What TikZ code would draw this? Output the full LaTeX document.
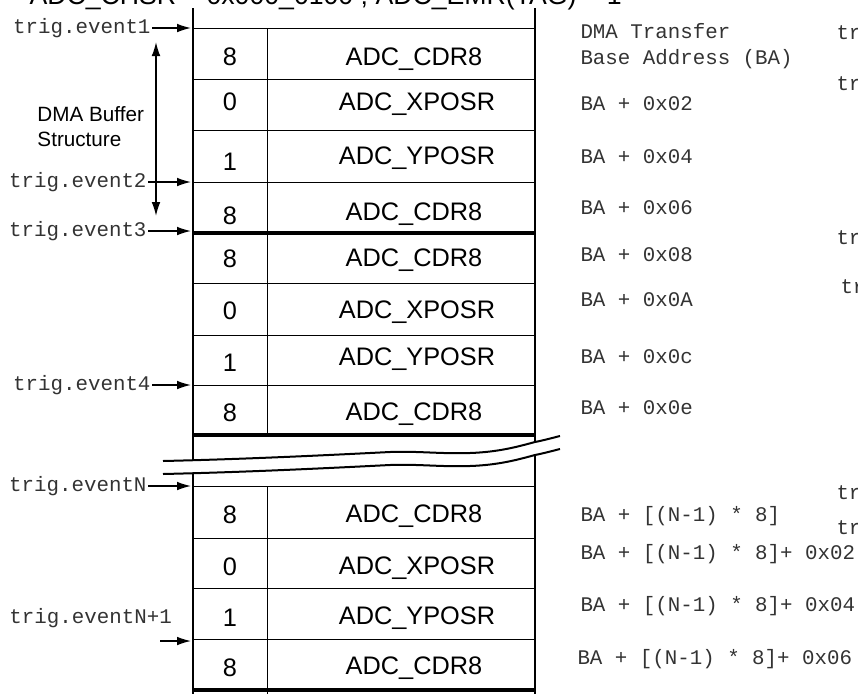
\documentclass[tikz,border=0pt]{standalone}
\usepackage{fontspec}
\setmainfont{Liberation Sans}
\setmonofont{Liberation Mono}
\usetikzlibrary{arrows.meta}

\tikzset{every picture/.style={line width=0.75pt}}
\tikzset{
  cell/.style={inner sep=0.75pt, text depth=0pt, font=\fontsize{19pt}{22pt}\selectfont},
  addr/.style={anchor=west, inner sep=0.75pt, text=black!80, font=\ttfamily\fontsize{15.6pt}{18pt}\selectfont},
  evt/.style={anchor=east, inner sep=0.75pt, text=black!80, font=\ttfamily\fontsize{15.6pt}{18pt}\selectfont},
  evtarrow/.style={line width=1pt, -{Latex[length=10.5pt,width=6.5pt]}},
  tableborder/.style={line width=1.5pt},
  blockline/.style={line width=3pt},
}

\begin{document}
\begin{tikzpicture}[x=0.75pt,y=0.75pt,yscale=-1,xscale=1]
        \useasboundingbox (0,0) rectangle (858,694);

        % title, cut at the top
        \node [anchor=base west, inner sep=0pt, font=\fontsize{20pt}{24pt}\selectfont] (title) at (29,4) {ADC\_CHSR = 0x000\_0100 ; ADC\_EMR(TAG) = 1};

        % table
        \draw [tableborder] (193,8) -- (193,694) ;
        \draw [tableborder] (535,8) -- (535,694) ;
        \draw   (267,28) -- (267,435) ;
        \draw   (267,486) -- (267,694) ;
        \draw   (193,28) -- (535,28) ;
        \draw   (193,79) -- (535,79) ;
        \draw   (193,130) -- (535,130) ;
        \draw   (193,182) -- (535,182) ;
        \draw [blockline] (193,233) -- (535,233) ;
        \draw   (193,283) -- (535,283) ;
        \draw   (193,335) -- (535,335) ;
        \draw   (193,385) -- (535,385) ;
        \draw [blockline] (193,435) -- (535,435) ;
        \draw   (193,486) -- (535,486) ;
        \draw   (193,538) -- (535,538) ;
        \draw   (193,588) -- (535,588) ;
        \draw   (193,639) -- (535,639) ;
        \draw [blockline] (193,690) -- (535,690) ;

        % break
        \fill [white] (163,461) .. controls (250,459) and (330,455) .. (390,452) .. controls (420,451) and (440,454) .. (470,453) .. controls (500,452) and (520,446) .. (535,442) .. controls (545,440) and (552,438) .. (560,436) -- (560,449) .. controls (552,451) and (545,453) .. (535,455) .. controls (520,459) and (500,465) .. (470,466) .. controls (440,467) and (420,464) .. (390,465) .. controls (330,468) and (250,472) .. (163,474) -- cycle ;
        \draw [tableborder] (163,461) .. controls (250,459) and (330,455) .. (390,452) .. controls (420,451) and (440,454) .. (470,453) .. controls (500,452) and (520,446) .. (535,442) .. controls (545,440) and (552,438) .. (560,436) ;
        \draw [tableborder] (163,474) .. controls (250,472) and (330,468) .. (390,465) .. controls (420,464) and (440,467) .. (470,466) .. controls (500,465) and (520,459) .. (535,455) .. controls (545,453) and (552,451) .. (560,449) ;

        % cells
        \node [cell] (tagA1) at (230,57) {8};
        \node [cell] (regA1) at (414,57) {ADC\_CDR8};
        \node [cell] (tagA2) at (230,102) {0};
        \node [cell] (regA2) at (417,102) {ADC\_XPOSR};
        \node [cell] (tagA3) at (230,162) {1};
        \node [cell] (regA3) at (417,156) {ADC\_YPOSR};
        \node [cell] (tagA4) at (230,216) {8};
        \node [cell] (regA4) at (414,212) {ADC\_CDR8};

        \node [cell] (tagB1) at (230,259) {8};
        \node [cell] (regB1) at (414,258) {ADC\_CDR8};
        \node [cell] (tagB2) at (230,311) {0};
        \node [cell] (regB2) at (417,310) {ADC\_XPOSR};
        \node [cell] (tagB3) at (230,363) {1};
        \node [cell] (regB3) at (417,357) {ADC\_YPOSR};
        \node [cell] (tagB4) at (230,413) {8};
        \node [cell] (regB4) at (414,412) {ADC\_CDR8};

        \node [cell] (tagC1) at (230,515) {8};
        \node [cell] (regC1) at (414,514) {ADC\_CDR8};
        \node [cell] (tagC2) at (230,567) {0};
        \node [cell] (regC2) at (417,566) {ADC\_XPOSR};
        \node [cell] (tagC3) at (230,618) {1};
        \node [cell] (regC3) at (417,616) {ADC\_YPOSR};
        \node [cell] (tagC4) at (230,668) {8};
        \node [cell] (regC4) at (414,666) {ADC\_CDR8};

        % trigger events
        \node [evt] (ev1) at (152,28) {trig.event1};
        \node [evt] (ev2) at (148,182) {trig.event2};
        \node [evt] (ev3) at (148,231) {trig.event3};
        \node [evt] (ev4) at (152,385) {trig.event4};
        \node [evt] (evN) at (148,486) {trig.eventN};
        \node [evt, anchor=west] (evN1) at (8,618) {trig.eventN+1};
        \coordinate (ev1tip) at (191,28);
        \coordinate (ev2tip) at (191,182);
        \coordinate (ev3tip) at (191,231);
        \coordinate (ev4tip) at (191,385);
        \coordinate (evNtip) at (191,486);
        \coordinate (evN1tail) at (160,641);
        \coordinate (evN1tip) at (191,641);
        \draw [evtarrow] (ev1) -- (ev1tip) ;
        \draw [evtarrow] (ev2) -- (ev2tip) ;
        \draw [evtarrow] (ev3) -- (ev3tip) ;
        \draw [evtarrow] (ev4) -- (ev4tip) ;
        \draw [evtarrow] (evN) -- (evNtip) ;
        \draw [evtarrow] (evN1tail) -- (evN1tip) ;

        % buffer structure
        \node [anchor=west, inner sep=0.75pt, align=left, font=\fontsize{15.5pt}{18.75pt}\selectfont] (buf) at (36,127) {DMA Buffer\\Structure};
        \coordinate (bufTop) at (156,42);
        \coordinate (bufBot) at (156,216);
        \draw [line width=1pt, {Latex[length=10.5pt,width=6.5pt]}-{Latex[length=10.5pt,width=6.5pt]}] (bufTop) -- (bufBot) ;

        % addresses
        \node [addr] (baT) at (579,31) {DMA Transfer};
        \node [addr] (ba0) at (579,59) {Base Address (BA)};
        \node [addr] (ba2) at (579,104) {BA + 0x02};
        \node [addr] (ba4) at (579,157) {BA + 0x04};
        \node [addr] (ba6) at (579,208) {BA + 0x06};
        \node [addr] (ba8) at (579,255) {BA + 0x08};
        \node [addr] (baA) at (579,300) {BA + 0x0A};
        \node [addr] (baC) at (579,357) {BA + 0x0c};
        \node [addr] (baE) at (579,408) {BA + 0x0e};
        \node [addr] (baN0) at (579,516) {BA + [(N-1) * 8]};
        \node [addr] (baN2) at (579,554) {BA + [(N-1) * 8]+ 0x02};
        \node [addr] (baN4) at (579,606) {BA + [(N-1) * 8]+ 0x04};
        \node [addr] (baN6) at (576,659) {BA + [(N-1) * 8]+ 0x06};

        % cut labels at the right edge
        \node [addr] (trA) at (835,33) {tr};
        \node [addr] (trB) at (835,84) {tr};
        \node [addr] (trC) at (835,238) {tr};
        \node [addr] (trD) at (839,287) {tr};
        \node [addr] (trE) at (835,493) {tr};
        \node [addr] (trF) at (835,528) {tr};
\end{tikzpicture}
\end{document}
